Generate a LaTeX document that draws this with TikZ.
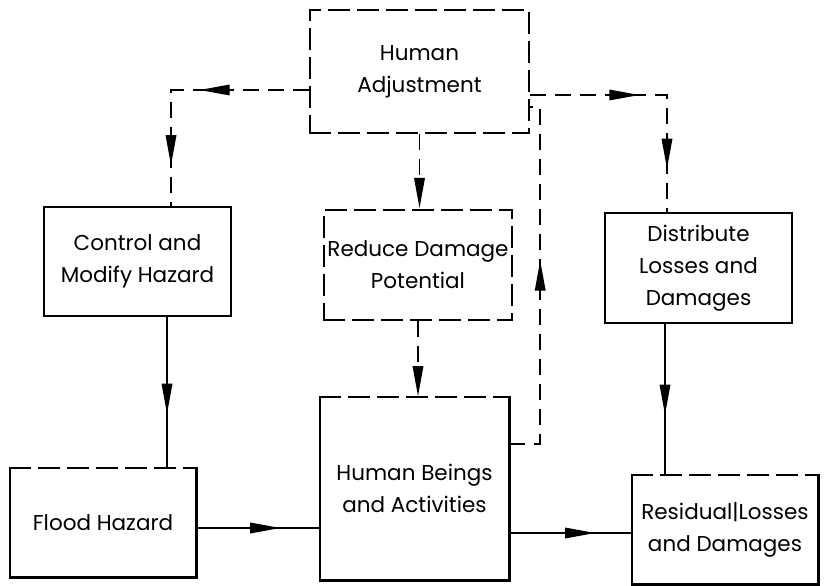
\documentclass[tikz,border=0pt]{standalone}
\usepackage{fontspec}
\setmainfont{Poppins}
\usetikzlibrary{arrows.meta,decorations.markings}
\newcommand\headshape{\fill[solid] (-30pt,5.5pt) -- (0pt,0pt) -- (-30pt,-5.5pt) -- cycle;}
\tikzset{
  boxline/.style={line width=2.6pt, line cap=rect},
  dashbox/.style={boxline, dash pattern=on 20pt off 9pt},
  blk/.style={align=center, inner sep=0pt, font=\fontsize{21.5}{32}\selectfont},
  solidbox/.style={blk, draw, boxline},
  dbox/.style={blk, draw, dashbox},
  conn/.style={line width=1.5pt},
  dconn/.style={conn, dash pattern=on 16pt off 9pt},
  arr/.style={postaction={decorate,decoration={markings,mark=at position #1 with {\headshape}}}},
  arrtwo/.style 2 args={postaction={decorate,decoration={markings,
     mark=at position #1 with {\headshape},
     mark=at position #2 with {\headshape}}}}
}
\newcommand\topdashbox[1]{%
  \draw[boxline] (#1.north west) -- (#1.south west) -- (#1.south east) -- (#1.north east);
  \draw[dashbox] (#1.north west) -- (#1.north east);}
\begin{document}
\begin{tikzpicture}[x=1pt,y=-1pt]
\useasboundingbox (0,0) rectangle (825,586);
% boxes
\node[dbox, minimum width=219pt, minimum height=123pt] (ha) at (419.5,71.5) {Human\\Adjustment};
\node[solidbox, minimum width=187pt, minimum height=109pt] (cm) at (137.5,261.5) {Control and\\Modify Hazard};
\node[dbox, minimum width=188pt, minimum height=110pt] (rd) at (418,265) {Reduce Damage\\Potential};
\node[solidbox, minimum width=187pt, minimum height=110pt] (dl) at (698.5,268) {Distribute\\Losses and\\Damages};
\node[blk, minimum width=186pt, minimum height=109pt] (fh) at (103,522.5) {Flood Hazard};
\node[blk, minimum width=189pt, minimum height=183pt] (hb) at (414.5,488.5) {Human Beings\\and Activities};
\node[blk, minimum width=186pt, minimum height=109pt] (rl) at (725,529.5) {Residual|Losses\\and Damages};
\topdashbox{fh}
\topdashbox{hb}
\topdashbox{rl}
% connectors
\draw[dconn, arrtwo={0.43}{0.84}] ([yshift=-18.5pt]ha.west) -| ([xshift=33.5pt]cm.north);
\draw[dconn, arrtwo={0.43}{0.83}] ([yshift=-23.5pt]ha.east) -| ([xshift=-31.5pt]dl.north);
\draw[dconn, arr=0.99] (ha.south) -- (ha.south |- rd.north);
\draw[dconn, arr=0.99] (rd.south) -- (rd.south |- hb.north);
\draw[dconn, arr=0.567] ([yshift=44.5pt]hb.east) -- ++(31,0) |- ([yshift=-35.5pt]ha.east);
\draw[conn, arr=0.64] ([xshift=29.5pt]cm.south) -- ([xshift=29.5pt]cm.south |- fh.north);
\draw[conn, arr=0.6] ([xshift=-33.5pt]dl.south) -- ([xshift=-33.5pt]dl.south |- rl.north);
\draw[conn, arr=0.68] ([yshift=-5.5pt]fh.east) -- ([yshift=-5.5pt]fh.east -| hb.west);
\draw[conn, arr=0.7] ([yshift=-44.5pt]hb.east) -- ([yshift=-44.5pt]hb.east -| rl.west);
\end{tikzpicture}
\end{document}
